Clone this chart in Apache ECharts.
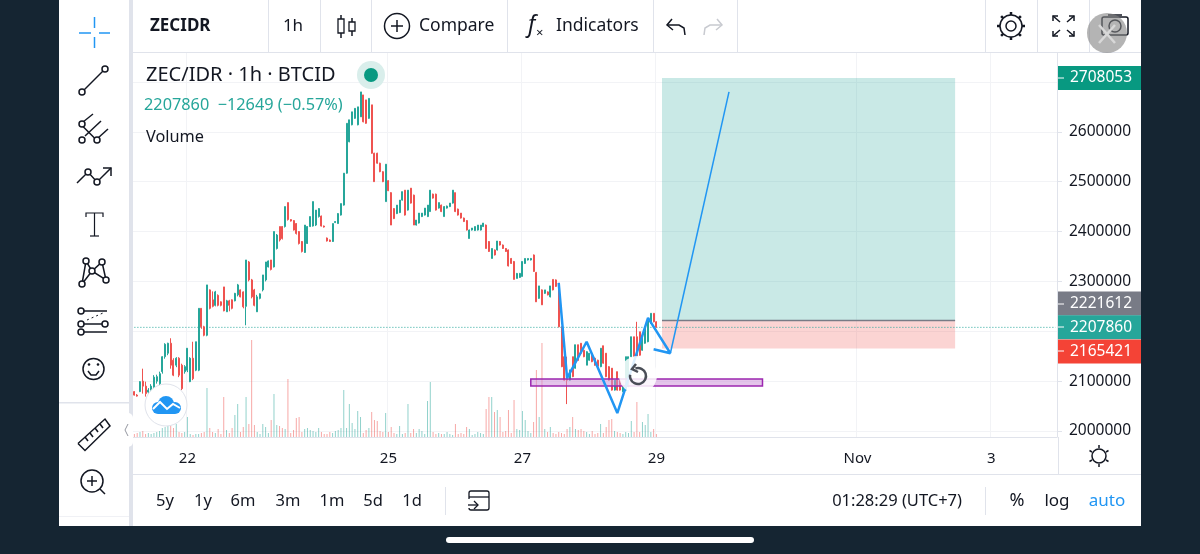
<!DOCTYPE html>
<html>
<head>
<meta charset="utf-8">
<style>html,body{margin:0;padding:0;background:#152532}#chart{width:1200px;height:554px}</style>
<script src="https://cdn.jsdelivr.net/npm/echarts@6/dist/echarts.min.js"></script>
</head>
<body>
<div id="chart"></div>
<script>
// candles per day as [open, close, low, high], thousands of IDR
const oct21 = [[2079,2072,2071,2080],[2072,2070,2069,2074],[2079,2099,2078,2100],[2100,2090,2075,2125],[2090,2075,2069,2099],[2078,2082,2074,2086],[2082,2090,2078,2094],[2085,2108,2080,2112],[2100,2109,2095,2113],[2095,2115,2092,2119],[2119,2149,2115,2150],[2149,2174,2145,2176],[2156,2176,2152,2177],[2176,2132,2125,2186],[2142,2112,2110,2146],[2132,2146,2128,2148],[2146,2112,2108,2148],[2132,2085,2082,2135],[2119,2129,2115,2132]];
const oct22 = [[2122,2166,2118,2166],[2099,2146,2098,2148],[2146,2105,2102,2179],[2122,2179,2120,2179],[2122,2246,2120,2246],[2246,2209,2205,2246],[2209,2192,2190,2211],[2192,2293,2190,2293],[2283,2246,2244,2284],[2263,2250,2248,2280],[2252,2279,2250,2281],[2272,2252,2250,2274],[2259,2252,2250,2260],[2289,2241,2240,2289],[2239,2261,2239,2263],[2261,2252,2240,2263],[2263,2246,2244,2264],[2261,2276,2260,2277],[2273,2293,2270,2295],[2283,2269,2268,2284],[2279,2249,2246,2280],[2250,2343,2212,2343],[2339,2303,2300,2341],[2303,2269,2266,2305]];
const oct23 = [[2283,2252,2250,2285],[2239,2269,2239,2273],[2266,2275,2264,2276],[2283,2313,2280,2313],[2303,2339,2300,2339],[2329,2341,2328,2342],[2343,2324,2322,2343],[2329,2400,2328,2400],[2366,2393,2364,2395],[2410,2383,2380,2410],[2410,2386,2384,2411],[2410,2450,2408,2450],[2458,2424,2422,2458],[2424,2421,2420,2425],[2422,2403,2402,2423],[2416,2396,2394,2417],[2400,2376,2374,2401],[2380,2360,2358,2381],[2358,2413,2357,2413],[2376,2410,2375,2411],[2410,2430,2409,2430],[2411,2460,2410,2460],[2413,2443,2411,2443],[2430,2446,2428,2447]];
const oct24 = [[2431,2411,2410,2432],[2411,2409,2408,2412],[2387,2381,2380,2388],[2383,2380,2379,2384],[2380,2416,2379,2416],[2418,2420,2417,2421],[2416,2436,2416,2437],[2433,2456,2432,2456],[2453,2517,2452,2517],[2517,2617,2516,2617],[2580,2624,2579,2624],[2614,2640,2613,2640],[2627,2647,2626,2647],[2614,2650,2613,2650],[2630,2680,2630,2680],[2674,2620,2619,2674],[2664,2617,2616,2664],[2627,2667,2626,2667],[2654,2557,2556,2654],[2557,2500,2500,2558],[2557,2537,2536,2558],[2537,2520,2519,2538],[2520,2500,2499,2521],[2460,2535,2460,2535]];
const oct25 = [[2502,2482,2481,2503],[2478,2413,2413,2479],[2446,2426,2425,2447],[2436,2453,2435,2453],[2438,2463,2437,2463],[2463,2480,2462,2480],[2483,2433,2432,2483],[2443,2483,2442,2483],[2487,2457,2456,2487],[2473,2413,2413,2474],[2413,2423,2412,2423],[2417,2437,2416,2437],[2430,2437,2429,2437],[2433,2447,2432,2447],[2430,2453,2429,2453],[2440,2483,2440,2483],[2475,2467,2466,2476],[2475,2443,2442,2476],[2447,2458,2446,2458],[2453,2440,2439,2454],[2430,2450,2430,2451],[2447,2451,2446,2452],[2450,2457,2449,2457],[2457,2483,2456,2483]];
const oct26 = [[2478,2440,2439,2478],[2445,2433,2432,2446],[2437,2427,2426,2437],[2427,2420,2419,2428],[2422,2403,2402,2423],[2386,2403,2386,2404],[2403,2407,2402,2407],[2402,2410,2401,2410],[2403,2413,2402,2413],[2403,2413,2402,2413],[2410,2417,2409,2417],[2413,2366,2366,2414],[2380,2360,2359,2381],[2346,2366,2346,2366],[2363,2353,2352,2364],[2363,2381,2362,2381],[2380,2373,2372,2381],[2373,2366,2365,2374],[2366,2360,2359,2367],[2363,2331,2330,2364],[2346,2336,2335,2347],[2340,2304,2304,2341],[2306,2316,2306,2317],[2308,2316,2307,2317]];
const oct27 = [[2310,2340,2310,2340],[2336,2346,2335,2346],[2343,2346,2342,2346],[2343,2346,2342,2347],[2353,2320,2319,2354],[2318,2259,2259,2319],[2266,2291,2265,2291],[2283,2253,2253,2284],[2276,2283,2275,2283],[2279,2273,2272,2280],[2269,2291,2268,2291],[2304,2283,2282,2304],[2303,2290,2289,2304],[2296,2209,2208,2297],[2209,2129,2128,2210],[2149,2102,2101,2150],[2109,2102,2054,2149],[2102,2122,2101,2123],[2149,2109,2108,2149],[2126,2173,2125,2173],[2173,2142,2141,2173],[2176,2156,2155,2176],[2162,2149,2148,2163],[2132,2159,2132,2160]];
const oct28 = [[2142,2156,2141,2156],[2152,2139,2138,2153],[2146,2132,2131,2147],[2142,2130,2129,2143],[2129,2166,2128,2166],[2171,2136,2135,2171],[2156,2109,2108,2156],[2129,2102,2101,2130],[2126,2082,2081,2126],[2082,2102,2081,2102],[2119,2082,2081,2119],[2102,2082,2081,2103],[2079,2092,2078,2092],[2082,2149,2081,2149],[2089,2149,2088,2149],[2149,2189,2148,2189],[2189,2149,2148,2189],[2189,2149,2148,2219],[2199,2152,2151,2199],[2162,2189,2161,2189],[2176,2209,2175,2209],[2179,2223,2178,2223],[2216,2236,2215,2236],[2236,2219,2218,2236]];
const oct29 = [[2219,2208,2207,2220]];

const volumes = [3,4,5,6,3,4,3,4,5,6,9,10,11,12,9,13,5,4,5,
  20,3,2,3,3,4,5,49,9,5,4,8,3,40,7,4,9,22,33,5,10,40,13,97,
  12,5,3,13,10,4,17,43,12,11,9,8,58,4,7,19,20,5,8,9,7,6,5,9,
  5,3,3,5,4,6,7,9,47,9,33,14,8,26,20,4,7,9,25,17,16,6,5,24,
  5,10,4,3,11,3,4,33,4,8,4,8,6,3,36,55,5,3,4,3,3,5,3,2,
  13,3,4,3,10,8,2,3,5,4,3,28,40,40,25,27,20,5,6,27,4,37,8,7,
  26,17,6,4,15,67,20,94,8,5,10,4,3,5,4,3,8,10,20,8,7,8,6,5,
  3,6,3,4,13,4,10,17,18,6,5,4,3,5,4,16,5,35,5,15,12,23,5,8,3];

// time axis: hourly slots, only these carry a label
const slotCount = 331;
const timeTicks = {19:'22', 91:'25', 139:'27', 187:'29', 259:'Nov', 307:'3'};
const priceTicks = [2000000,2100000,2200000,2300000,2400000,2500000,2600000,2700000];

// position tool and price tags
const lastPrice = 2207860;
const entryPrice = 2221612;
const targetPrice = 2708053;
const stopPrice = 2165421;
const toolSlots = [189, 294];
const zonePrices = [2090300, 2104300];
const zoneSlots = [142, 225];

// hand drawn lines: [slot, price]
const swingLine = [[152,2297000],[155,2106000],[162,2179000],[173,2036000],[184,2227000],[192,2156000],[186,2164000]];
const arrowLine = [[192,2156000],[213,2680000]];

const UP = '#26a69a', DOWN = '#ef5350', INK = '#131722', RULE = '#e0e3eb', BLUE = '#2196f3';
const FONT = '"Noto Sans"';

const candles = [].concat(oct21, oct22, oct23, oct24, oct25, oct26, oct27, oct28, oct29)
  .map(c => c.map(v => v * 1000));
const categories = Array.from({length: slotCount}, (_, i) => timeTicks[i] || '');
const hasTick = (i, v) => v !== '';
const volumeBars = volumes.map((v, i) => ({
  value: v,
  itemStyle: {color: candles[i][1] >= candles[i][0] ? 'rgba(38,166,154,.5)' : 'rgba(239,83,80,.5)'}
}));

// page furniture, all of it sits around the chart
const txt = (x, y, text, size, color, align, weight) => ({type: 'text', x, y, z: 50, silent: true,
  style: {text, fill: color || INK, font: (weight || 'normal') + ' ' + size + 'px ' + FONT, textAlign: align || 'left', textVerticalAlign: 'middle'}});
const rect = (x, y, w, h, fill, z, r) => ({type: 'rect', z: z === undefined ? 40 : z, silent: true, shape: {x, y, width: w, height: h, r: r || 0}, style: {fill}});
const ln = (x1, y1, x2, y2, c, w, dash) => ({type: 'line', z: 50, silent: true, shape: {x1, y1, x2, y2}, style: {stroke: c || INK, lineWidth: w || 1.5, lineDash: dash}});
const poly = (points, c, w) => ({type: 'polyline', z: 50, silent: true, shape: {points}, style: {stroke: c || INK, lineWidth: w || 1.5, fill: 'none'}});
const circ = (cx, cy, r, stroke, fill, w) => ({type: 'circle', z: 50, silent: true, shape: {cx, cy, r}, style: {stroke: stroke || INK, fill: fill || '#fff', lineWidth: w || 1.5}});
const dot = (cx, cy, r, fill, z) => ({type: 'circle', z: z || 51, silent: true, shape: {cx, cy, r}, style: {fill}});

const graphics = [
  rect(59, 0, 1082, 526, '#fff', -10),
  rect(129, 0, 4, 526, RULE, 40),
  rect(133, 52, 1008, 1, RULE, 40),
  rect(133, 474, 1008, 1, RULE, 40),
  rect(59, 402, 70, 1.5, RULE, 40),
  rect(59, 516, 70, 1, '#f0f1f5', 40),
  rect(1058, 437, 83, 37, '#fff', 10),
  rect(1058, 437, 1, 37, RULE, 40),
  rect(446, 537, 308, 6, '#fff', 40, 3),
  rect(985, 487, 1, 28, RULE, 40),
  rect(445, 487, 1, 28, RULE, 40),
  rect(121, 413, 12, 34, '#fff', 41, 5),
  poly([[128, 424], [125, 430], [128, 436]], '#9598a1', 1),
  // toolbar separators
  ...[268, 320, 371, 507, 653, 737, 985, 1037, 1089].map(x => rect(x, 0, 1, 52, RULE, 40)),
  // top bar
  txt(150, 26, 'ZECIDR', 17, INK, 'left', 'bold'),
  txt(293, 26, '1h', 17, INK, 'center'),
  ln(341, 15, 341, 38), ln(352, 18, 352, 36),
  {type: 'rect', z: 51, silent: true, shape: {x: 338, y: 19, width: 6, height: 14}, style: {fill: '#fff', stroke: INK, lineWidth: 1.3}},
  {type: 'rect', z: 51, silent: true, shape: {x: 349, y: 22, width: 6, height: 9}, style: {fill: '#fff', stroke: INK, lineWidth: 1.3}},
  circ(397, 26, 12.5), ln(391, 26, 403, 26), ln(397, 20, 397, 32),
  txt(419, 26, 'Compare', 17.5),
  txt(528, 25, 'f', 23, INK, 'left', 'italic'), txt(536, 33, '×', 13),
  txt(556, 26, 'Indicators', 17.5),
  poly([[672, 19], [667, 25], [673, 30]]), poly([[667, 25], [679, 25], [684, 28], [685, 35]]),
  poly([[717, 19], [722, 25], [716, 30]], '#c8cad0'), poly([[722, 25], [710, 25], [705, 28], [704, 35]], '#c8cad0'),
  // settings, fullscreen, camera
  circ(1011, 26, 5), circ(1011, 26, 11, INK, 'none', 1.5),
  ...[0, 45, 90, 135, 180, 225, 270, 315].map(a => {
    const t = a * Math.PI / 180;
    return ln(1011 + 11 * Math.cos(t), 26 + 11 * Math.sin(t), 1011 + 14 * Math.cos(t), 26 + 14 * Math.sin(t), INK, 2.5);
  }),
  ln(1053, 16, 1060, 22), poly([[1053, 21], [1053, 16], [1058, 16]]),
  ln(1074, 16, 1067, 22), poly([[1069, 16], [1074, 16], [1074, 21]]),
  ln(1053, 36, 1060, 30), poly([[1053, 31], [1053, 36], [1058, 36]]),
  ln(1074, 36, 1067, 30), poly([[1069, 36], [1074, 36], [1074, 31]]),
  {type: 'rect', z: 50, silent: true, shape: {x: 1102, y: 17, width: 26, height: 18, r: 2}, style: {fill: 'none', stroke: INK, lineWidth: 1.5}},
  circ(1115, 26, 6, INK, 'none'), ln(1108, 15, 1122, 15),
  dot(1107, 33, 20, 'rgba(130,130,130,.6)', 52),
  {...ln(1099, 25, 1115, 43, '#d8d8d8', 2.5), z: 53}, {...ln(1115, 25, 1099, 43, '#d8d8d8', 2.5), z: 53},
  // left tools
  ln(94.5, 17, 94.5, 28, BLUE), ln(94.5, 37, 94.5, 48, BLUE), ln(79, 33, 91, 33, BLUE), ln(99, 33, 110, 33, BLUE),
  ln(84, 90, 103, 71), circ(105, 69, 3), circ(82, 92, 3),
  ln(83, 122, 93, 114), ln(85, 136, 101, 121), ln(98, 138, 108, 129), ln(83, 126.5, 95, 138.5), circ(82, 124, 3), circ(82, 140, 3), circ(97, 140, 3),
  poly([[77, 183], [88, 172], [97, 182], [111, 168]]), poly([[103, 168], [111, 168], [111, 176]]), circ(88, 172, 3), circ(97, 182, 3),
  poly([[86, 217], [86, 213], [103, 213], [103, 217]], INK, 1.2), ln(94.5, 213, 94.5, 236, INK, 1.2), ln(90, 236, 99, 236, INK, 1.2),
  poly([[82, 284], [86, 261], [92, 271], [102, 262], [106, 280], [92, 271], [82, 284]]), circ(86, 261, 3), circ(102, 262, 3), circ(92, 271, 3), circ(82, 284, 3), circ(106, 280, 3),
  ln(84, 311, 107, 311), ln(84, 324, 102, 324), ln(84, 332, 107, 332), ln(87, 320, 103, 313, INK, 1, [2, 3]), circ(81, 311, 3), circ(81, 324, 3), circ(105, 324, 3), circ(81, 332, 3),
  circ(93.5, 369, 10.5), dot(89, 364.5, 1.3, INK), dot(98, 364.5, 1.3, INK),
  poly([[88, 371], [91, 375], [96, 375], [99, 371]]),
  poly([[78, 443.5], [105, 419], [110, 426], [85, 450.5], [78, 443.5]]), ln(85, 437, 88, 441), ln(90, 433, 93, 437), ln(95, 428, 98, 432), ln(100, 424, 103, 428),
  circ(92, 481, 11), ln(87, 481, 97, 481), ln(92, 476, 92, 486), ln(100, 489, 105, 494),
  // chart legend
  txt(146, 75, 'ZEC/IDR · 1h · BTCID', 20),
  dot(371, 75, 14, '#d9eeeb', 49), dot(371, 75, 7, '#089981', 50),
  txt(144, 105, '2207860  −12649 (−0.57%)', 16.3, UP),
  txt(146, 137, 'Volume', 16.3),
  // logo badge and reset button
  circ(166, 405, 21, RULE, '#fff', 1),
  dot(158, 408, 6, BLUE), dot(166, 404, 8, BLUE), dot(175, 408, 6, BLUE), rect(158, 408, 17, 6, BLUE, 51),
  {...poly([[153, 409], [160, 402], [167, 409], [173, 404], [180, 408]], '#fff', 2), z: 52},
  dot(638, 375, 19, 'rgba(255,255,255,.85)', 48),
  {type: 'arc', z: 50, silent: true, shape: {cx: 638, cy: 376, r: 8, startAngle: -1.9, endAngle: 3.3}, style: {stroke: '#4a4e57', lineWidth: 2.5, fill: 'none'}},
  poly([[636, 364], [632, 369], [638, 372]], '#4a4e57', 2.5),
  // small ticks inside the price tags
  {...ln(1058, 78, 1064, 78, '#fff', 1), z: 60}, {...ln(1058, 304, 1064, 304, '#fff', 1), z: 60}, {...ln(1058, 327, 1064, 327, '#fff', 1), z: 60}, {...ln(1058, 351, 1064, 351, '#fff', 1), z: 60},
  // sun button
  circ(1099, 456, 7), ...[0, 60, 120, 180, 240, 300].map(a => {
    const t = (a + 30) * Math.PI / 180;
    return ln(1099 + 8 * Math.cos(t), 456 + 8 * Math.sin(t), 1099 + 11 * Math.cos(t), 456 + 11 * Math.sin(t));
  }),
  // bottom bar
  ...[['5y', 165], ['1y', 203], ['6m', 243], ['3m', 288], ['1m', 332], ['5d', 373], ['1d', 412]].map(r => txt(r[1], 501, r[0], 16.5, INK, 'center')),
  {type: 'rect', z: 50, silent: true, shape: {x: 469, y: 491, width: 20, height: 19, r: 2}, style: {fill: 'none', stroke: INK, lineWidth: 1.3}},
  {...rect(466, 499, 8, 9, '#fff', 50), z: 50}, ln(469, 497, 489, 497, INK, 1.3), ln(468, 505, 478, 505, INK, 1.3), poly([[474, 501], [478, 505], [474, 509]], INK, 1.3),
  txt(962, 501, '01:28:29 (UTC+7)', 16.5, INK, 'right'),
  txt(1017, 501, '%', 18, INK, 'center'),
  txt(1057, 501, 'log', 17, INK, 'center'),
  txt(1107, 501, 'auto', 17, BLUE, 'center')
];

const priceTag = (value, color, offsetY) => ({
  yAxis: value,
  lineStyle: {color: 'transparent', width: 0},
  label: {show: true, position: 'end', distance: 1, offset: [0, offsetY], formatter: String(value), color: '#fff',
    backgroundColor: color, fontFamily: FONT, fontSize: 15.5, align: 'left', verticalAlign: 'middle',
    padding: [3, 0, 3, 12], width: 71, lineHeight: 18}
});

const chart = echarts.init(document.getElementById('chart'));
chart.setOption({
  animation: false,
  backgroundColor: '#152532',
  graphic: graphics,
  grid: [
    {left: 133, right: 143, top: 53, bottom: 117},
    {left: 133, right: 143, top: 337, bottom: 117}
  ],
  xAxis: [
    {type: 'category', data: categories, gridIndex: 0, boundaryGap: true,
      axisLine: {lineStyle: {color: RULE}},
      axisTick: {length: 4, alignWithLabel: true, interval: hasTick, lineStyle: {color: RULE}},
      axisLabel: {interval: hasTick, color: INK, fontFamily: FONT, fontSize: 15, margin: 14, hideOverlap: false},
      splitLine: {show: true, interval: hasTick, lineStyle: {color: '#f2f3f6'}}},
    {type: 'category', data: categories, gridIndex: 1, show: false}
  ],
  yAxis: [
    {type: 'value', gridIndex: 0, position: 'right', min: 1988000, max: 2758000, scale: true,
      axisLine: {show: true, lineStyle: {color: RULE}},
      axisTick: {show: true, length: 5, customValues: priceTicks, lineStyle: {color: RULE}},
      axisLabel: {customValues: priceTicks, color: INK, fontFamily: FONT, fontSize: 15.5, margin: 12, padding: [6, 0, 0, 0], formatter: v => String(v)},
      splitLine: {show: true, customValues: priceTicks, lineStyle: {color: '#f2f3f6'}}},
    {type: 'value', gridIndex: 1, min: 0, max: 100, show: false}
  ],
  series: [
    {type: 'bar', name: 'Volume', xAxisIndex: 1, yAxisIndex: 1, barWidth: 1, data: volumeBars, silent: true, z: 1},
    {type: 'candlestick', name: 'ZEC/IDR', xAxisIndex: 0, yAxisIndex: 0, barWidth: 1.5, data: candles, silent: true, z: 3,
      itemStyle: {color: UP, color0: DOWN, borderColor: UP, borderColor0: DOWN, borderWidth: 1},
      markArea: {silent: true, z: 1, data: [
        [{coord: [toolSlots[0], targetPrice], itemStyle: {color: 'rgba(38,166,154,.25)'}}, {coord: [toolSlots[1], entryPrice]}],
        [{coord: [toolSlots[0], entryPrice], itemStyle: {color: 'rgba(239,83,80,.25)'}}, {coord: [toolSlots[1], stopPrice]}]
      ]},
      markLine: {silent: true, symbol: 'none', animation: false, precision: 0, data: [
        priceTag(targetPrice, '#089981', 0),
        priceTag(entryPrice, '#787b86', -17),
        priceTag(lastPrice, UP, 0),
        priceTag(stopPrice, '#f44336', 3)
      ]}},
    {type: 'line', name: 'Last', xAxisIndex: 0, yAxisIndex: 0, data: [[0, lastPrice], [slotCount - 1, lastPrice]], symbol: 'none', silent: true, z: 2,
      lineStyle: {color: UP, type: [1, 2], width: 1}},
    {type: 'line', name: 'Entry', xAxisIndex: 0, yAxisIndex: 0, data: toolSlots.map(s => [s, entryPrice]), symbol: 'none', silent: true, z: 4,
      lineStyle: {color: '#787b86', width: 1.5}},
    {type: 'line', name: 'Swing', xAxisIndex: 0, yAxisIndex: 0, data: swingLine, symbol: 'none', silent: true, z: 6,
      lineStyle: {color: BLUE, width: 2.5},
      markArea: {silent: true, z: 5, data: [
        [{coord: [zoneSlots[0], zonePrices[1]], itemStyle: {color: 'rgba(206,147,216,.55)', borderColor: '#9c27b0', borderWidth: 1.5}}, {coord: [zoneSlots[1], zonePrices[0]]}]
      ]}},
    {type: 'line', name: 'Target', xAxisIndex: 0, yAxisIndex: 0, data: arrowLine, symbol: 'none', silent: true, z: 6,
      lineStyle: {color: BLUE, width: 1.5}}
  ]
});
</script>
</body>
</html>
